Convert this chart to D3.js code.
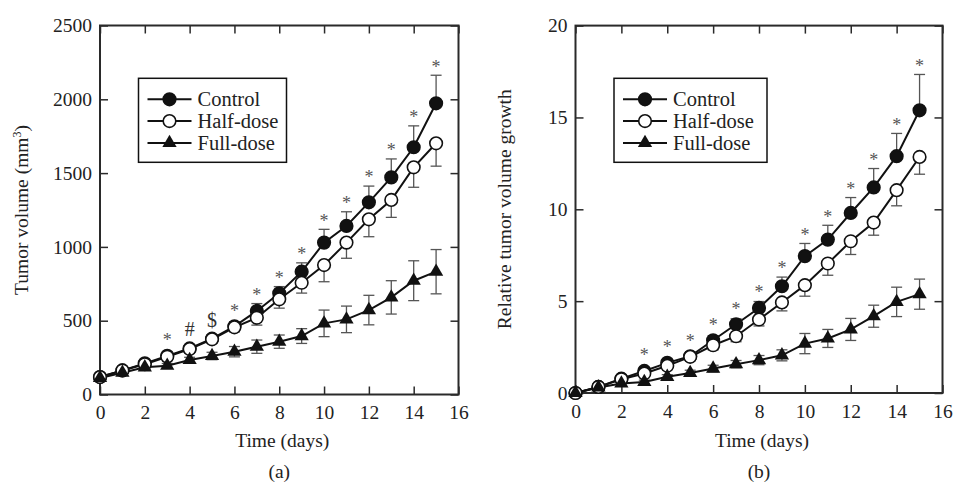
<!DOCTYPE html>
<html><head><meta charset="utf-8">
<script src="https://cdn.jsdelivr.net/npm/d3@7"></script>
<style>
body{margin:0;background:#fff}
svg{display:block}
text{font-family:"Liberation Serif","Times New Roman",serif;fill:#222}
</style>
</head><body>
<svg id="c" width="953" height="486"></svg>
<script>
// ---- data ----
const days = [0,1,2,3,4,5,6,7,8,9,10,11,12,13,14,15];
const xTicks = [0,2,4,6,8,10,12,14,16];
const seriesNames = ["Control","Half-dose","Full-dose"];

// (a) Tumor volume (mm^3)
const volTicks = [0,500,1000,1500,2000,2500];
const volControl = [118,163,211,262,312,378,462,566,686,832,1029,1142,1302,1471,1675,1973];
const volHalf    = [118,163,205,256,308,374,455,520,645,757,877,1029,1187,1318,1539,1702];
const volFull    = [112,148,184,195,234,261,290,324,358,396,482,509,572,658,771,832];
const volControlErr = [10,12,15,18,20,25,30,50,45,60,90,96,110,125,145,190];
const volHalfErr    = [10,12,15,18,20,25,30,50,60,70,113,106,118,118,135,155];
const volFullErr    = [10,10,12,15,18,25,35,45,45,50,90,90,100,113,135,150];
const volMarkDays = [3,4,5,6,7,8,9,10,11,12,13,14,15];
const volMarks    = ["*","#","$","*","*","*","*","*","*","*","*","*","*"];

// (b) Relative tumor volume growth
const relTicks = [0,5,10,15,20];
const relControl = [0,0.33,0.78,1.2,1.64,2.0,2.87,3.74,4.63,5.81,7.45,8.35,9.8,11.19,12.89,15.39];
const relHalf    = [0,0.33,0.75,1.06,1.48,1.97,2.6,3.09,4.0,4.93,5.87,7.05,8.26,9.28,11.04,12.85];
const relFull    = [0,0.3,0.52,0.6,0.88,1.09,1.33,1.57,1.79,2.05,2.69,2.97,3.46,4.18,4.96,5.38];
const relControlErr = [0.05,0.1,0.12,0.15,0.18,0.2,0.25,0.3,0.35,0.5,0.69,0.78,0.84,1.03,1.24,1.95];
const relHalfErr    = [0.05,0.1,0.12,0.15,0.18,0.2,0.25,0.3,0.35,0.46,0.6,0.64,0.72,0.69,0.85,0.94];
const relFullErr    = [0.05,0.08,0.1,0.1,0.12,0.15,0.18,0.2,0.25,0.3,0.55,0.49,0.6,0.6,0.8,0.82];
const relMarkDays = [3,4,5,6,7,8,9,10,11,12,13,14,15];
const relMarks    = ["*","*","*","*","*","*","*","*","*","*","*","*","*"];

// ---- drawing ----
const svg = d3.select("#c");
const INK = "#111", FRAME = "#2a2a2a", ERR = "#555";
const SERIF = '"Liberation Serif","Times New Roman",serif';

function marker(sel, kind){
  if(kind === 2){
    sel.append("path").attr("d", d3.symbol(d3.symbolTriangle, 88)()).attr("fill", INK);
  } else {
    sel.append("circle").attr("r", 6.3)
      .attr("fill", kind === 0 ? INK : "#fff")
      .attr("stroke", INK).attr("stroke-width", 1.6);
  }
}

function drawPanel(o){
  const g = svg.append("g");
  const x = d3.scaleLinear().domain([0,16]).range([o.x0,o.x1]);
  const y = d3.scaleLinear().domain([0,o.ymax]).range([o.y0,o.y1]);

  const styleAxis = a => {
    a.attr("font-family", SERIF);
    a.select(".domain").remove();
    a.selectAll(".tick line").attr("stroke", FRAME).attr("stroke-width", 1.5);
    a.selectAll(".tick text").attr("font-size", 19.5).attr("fill", "#222")
      .attr("font-family", SERIF);
  };
  g.append("g").attr("transform", `translate(0,${o.y0})`)
    .call(d3.axisBottom(x).tickValues(xTicks).tickSize(-8).tickSizeOuter(0).tickPadding(11).tickFormat(d3.format("d")))
    .call(styleAxis);
  g.append("g").attr("transform", `translate(0,${o.y1})`)
    .call(d3.axisTop(x).tickValues(xTicks).tickSize(-8).tickSizeOuter(0).tickFormat(""))
    .call(styleAxis);
  g.append("g").attr("transform", `translate(${o.x0},0)`)
    .call(d3.axisLeft(y).tickValues(o.yTicks).tickSize(-8).tickSizeOuter(0).tickPadding(8).tickFormat(d3.format("d")))
    .call(styleAxis);
  g.append("g").attr("transform", `translate(${o.x1},0)`)
    .call(d3.axisRight(y).tickValues(o.yTicks).tickSize(-8).tickSizeOuter(0).tickFormat(""))
    .call(styleAxis);
  g.append("rect").attr("x", o.x0).attr("y", o.y1).attr("width", o.x1 - o.x0).attr("height", o.y0 - o.y1)
    .attr("fill", "none").attr("stroke", FRAME).attr("stroke-width", 2);

  const series = [
    {v:o.control, e:o.controlErr, dir:"up"},
    {v:o.half, e:o.halfErr, dir:"down"},
    {v:o.full, e:o.fullErr, dir:"both"}
  ];

  // error bars
  series.forEach(s => {
    days.forEach((d,i) => {
      const cx = x(d), cy = y(s.v[i]);
      const ends = [];
      if(s.dir !== "down") ends.push(y(s.v[i] + s.e[i]));
      if(s.dir !== "up") ends.push(y(s.v[i] - s.e[i]));
      ends.forEach(ey => {
        g.append("line").attr("x1", cx).attr("x2", cx).attr("y1", cy).attr("y2", ey)
          .attr("stroke", ERR).attr("stroke-width", 1.3);
        g.append("line").attr("x1", cx - 5.5).attr("x2", cx + 5.5).attr("y1", ey).attr("y2", ey)
          .attr("stroke", ERR).attr("stroke-width", 1.3);
      });
    });
  });

  // lines
  const line = d3.line().x((v,i) => x(days[i])).y(v => y(v));
  series.forEach(s => {
    g.append("path").attr("d", line(s.v)).attr("fill", "none")
      .attr("stroke", INK).attr("stroke-width", 2);
  });

  // markers
  series.forEach((s,k) => {
    days.forEach((d,i) => {
      const m = g.append("g").attr("transform", `translate(${x(d)},${y(s.v[i])})`);
      marker(m, k);
    });
  });

  // significance marks
  o.markDays.forEach((d,j) => {
    const i = days.indexOf(d);
    const top = Math.min(y(o.control[i] + o.controlErr[i]) - 12, y(o.control[i]) - 19);
    const sym = o.marks[j];
    const star = sym === "*";
    const fs = star ? 18 : 20;
    g.append("text").attr("x", x(d)).attr("y", top + (star ? 0.52 : 0.34) * fs)
      .attr("text-anchor", "middle").attr("font-size", fs)
      .style("fill", star ? "#555" : "#333").text(sym);
  });

  // legend
  const L = g.append("g").attr("transform", `translate(${o.x0 + 38.5},78.3)`);
  L.append("rect").attr("width", o.legW).attr("height", 84).attr("fill", "#fff")
    .attr("stroke", INK).attr("stroke-width", 1.5);
  seriesNames.forEach((n,k) => {
    const ry = 21 + k * 21.8;
    L.append("line").attr("x1", 9).attr("x2", 53).attr("y1", ry).attr("y2", ry)
      .attr("stroke", INK).attr("stroke-width", 2);
    marker(L.append("g").attr("transform", `translate(31,${ry})`), k);
    L.append("text").attr("x", 59).attr("y", ry).attr("dy", "0.35em")
      .attr("font-size", 20.5).text(n);
  });

  // titles
  const cxm = (o.x0 + o.x1) / 2;
  g.append("text").attr("x", cxm + 3).attr("y", 447).attr("text-anchor", "middle")
    .attr("font-size", 19.5).text("Time (days)");
  g.append("text").attr("x", cxm).attr("y", 478).attr("text-anchor", "middle")
    .attr("font-size", 19.5).text(o.letter);
  const yt = g.append("text").attr("transform", `translate(${o.ytX},${(o.y0 + o.y1) / 2}) rotate(-90)`)
    .attr("text-anchor", "middle").attr("font-size", 19.5);
  if(o.super){
    yt.append("tspan").text(o.ylabel);
    yt.append("tspan").attr("dy", -7).attr("font-size", 12).text("3");
    yt.append("tspan").attr("dy", 7).text(")");
  } else {
    yt.text(o.ylabel);
  }
}

drawPanel({
  x0:100, x1:458.5, y0:394.5, y1:25.5, ymax:2500, yTicks:volTicks,
  control:volControl, half:volHalf, full:volFull,
  controlErr:volControlErr, halfErr:volHalfErr, fullErr:volFullErr,
  markDays:volMarkDays, marks:volMarks, legW:148,
  letter:"(a)", ylabel:"Tumor volume (mm", super:true, ytX:28
});
drawPanel({
  x0:575.5, x1:942.5, y0:393, y1:25.6, ymax:20, yTicks:relTicks,
  control:relControl, half:relHalf, full:relFull,
  controlErr:relControlErr, halfErr:relHalfErr, fullErr:relFullErr,
  markDays:relMarkDays, marks:relMarks, legW:153,
  letter:"(b)", ylabel:"Relative tumor volume growth", super:false, ytX:511
});
</script>
</body></html>
